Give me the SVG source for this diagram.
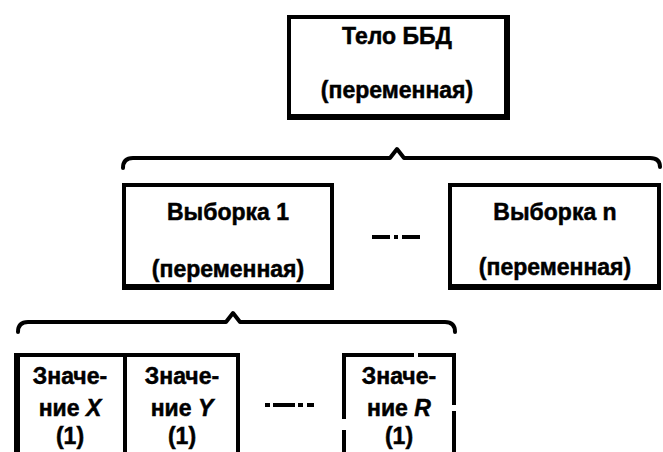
<svg xmlns="http://www.w3.org/2000/svg" width="663" height="452" viewBox="0 0 663 452">
<style>
.box{fill:none;stroke:#000;stroke-width:4}
.heavy{fill:none;stroke:#000;stroke-width:6}
.brace{fill:none;stroke:#000;stroke-width:4;stroke-linejoin:round;stroke-linecap:round}
.t{font-family:"Liberation Sans",Arial,sans-serif;font-weight:bold;font-size:23px;text-anchor:middle;fill:#000;stroke:#000;stroke-width:0.5}
.i{font-style:italic}
.dot{fill:#000}
</style>
<rect width="663" height="452" fill="#fff"/>
<g id="connectors">
<path class="brace" d="M123,168 Q123,158 133,158 L390,158 L397,149 L404,158 L650,158 Q660,158 660,167"/>
<path class="brace" d="M18,332 Q18,322 28,322 L226,322 L233,313 L240,322 L445,322 Q455,322 455,332"/>
</g>
<g id="node-top">
<rect class="box" x="289" y="17" width="218" height="100"/>
<line class="heavy" x1="287" y1="117" x2="510" y2="117"/>
<line class="heavy" x1="507" y1="15" x2="507" y2="120"/>
<text class="t" x="397" y="44">Тело ББД</text>
<text class="t" x="397" y="98">(переменная)</text>
</g>
<g id="node-sample1">
<rect class="box" x="124" y="185" width="208" height="102"/>
<line class="heavy" x1="122" y1="287" x2="334" y2="287"/>
<text class="t" x="228" y="220">Выборка 1</text>
<text class="t" x="228" y="277">(переменная)</text>
</g>
<g id="ellipsis-samples">
<rect class="dot" x="372" y="235" width="18" height="4"/>
<rect class="dot" x="394" y="235" width="4" height="4"/>
<rect class="dot" x="402" y="235" width="18" height="4"/>
</g>
<g id="node-samplen">
<rect class="box" x="450" y="185" width="209" height="102"/>
<line class="heavy" x1="448" y1="287" x2="661" y2="287"/>
<text class="t" x="555" y="220">Выборка n</text>
<text class="t" x="555" y="275">(переменная)</text>
</g>
<g id="node-valX">
<rect class="box" x="16" y="355" width="109" height="120"/>
<line class="heavy" x1="17" y1="353" x2="17" y2="452"/>
<text class="t" x="70" y="384">Значе-</text>
<text class="t" x="70" y="416">ние <tspan class="i">X</tspan></text>
<text class="t" x="70" y="444">(1)</text>
</g>
<g id="node-valY">
<rect class="box" x="125" y="355" width="113" height="120"/>
<text class="t" x="182" y="384">Значе-</text>
<text class="t" x="182" y="416">ние <tspan class="i">Y</tspan></text>
<text class="t" x="182" y="444">(1)</text>
</g>
<g id="ellipsis-values">
<rect class="dot" x="265" y="403" width="5" height="4"/>
<rect class="dot" x="273" y="403" width="22" height="4"/>
<rect class="dot" x="298" y="403" width="5" height="4"/>
<rect class="dot" x="307" y="403" width="7" height="4"/>
</g>
<g id="node-valR">
<path class="box" d="M344,419 V355 H414 M418,355 H454 V405 M454,411 V452 M344,430 V452"/>
<text class="t" x="399" y="384">Значе-</text>
<text class="t" x="399" y="416">ние <tspan class="i">R</tspan></text>
<text class="t" x="399" y="444">(1)</text>
</g>
</svg>
